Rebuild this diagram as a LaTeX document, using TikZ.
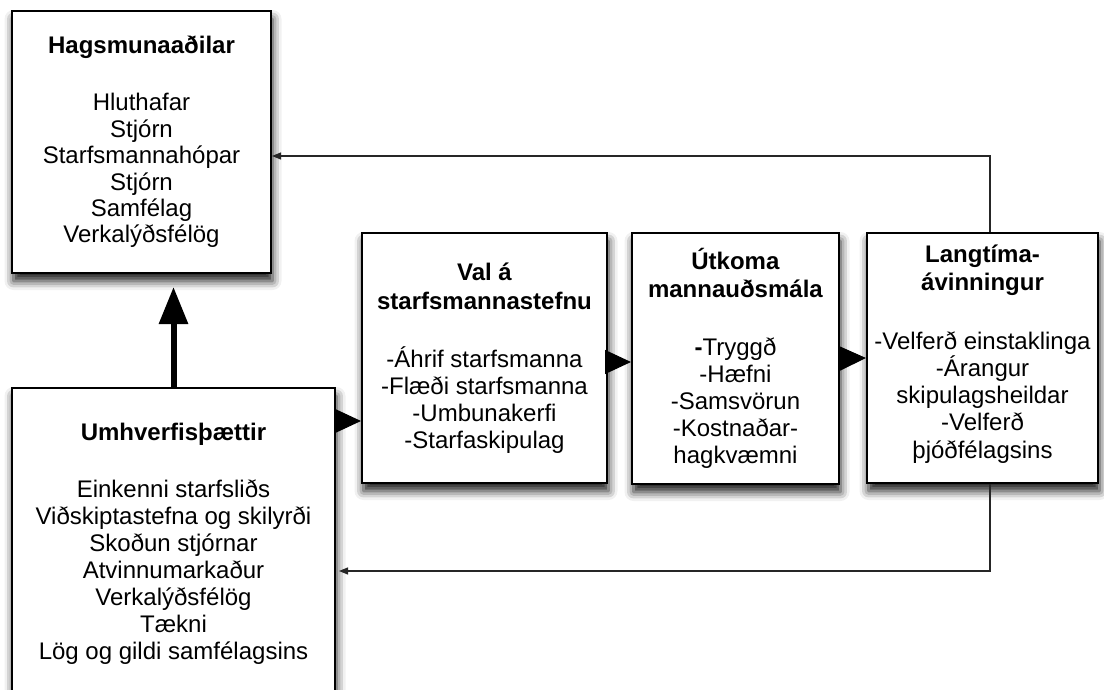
\documentclass[tikz,border=0pt]{standalone}
\usepackage{fontspec}
\setmainfont{Liberation Sans}
\usetikzlibrary{arrows.meta,shadows.blur,calc}

\begin{document}
\begin{tikzpicture}[x=1pt,y=-1pt,
  box/.style={draw=black, line width=2pt, fill=white, align=center, inner sep=2pt,
    font=\fontsize{24}{27}\selectfont,
    blur shadow={shadow xshift=1.5pt, shadow yshift=-8pt, shadow blur radius=9pt, shadow opacity=90}},
  boxtext/.style={align=center, inner sep=0pt, font=\fontsize{24}{27.25}\selectfont},
  flow/.style={line width=1pt, -{Triangle[length=26pt,width=24pt]}},
  feedback/.style={draw=black!85, line width=1.2pt, -{Triangle[length=9pt,width=7pt]}},
]
\useasboundingbox (0,0) rectangle (1104,690);
\clip (0,0) rectangle (1104,690);

% stakeholders
\node[box, minimum width=259pt, minimum height=262pt, font=\fontsize{24}{26.4}\selectfont] (hag) at (141.5,142)
  {\textbf{Hagsmunaaðilar}\\[30.6pt]
   Hluthafar\\Stjórn\\Starfsmannahópar\\Stjórn\\Samfélag\\Verkalýðsfélög};

% situational factors
\node[box, minimum width=323pt, minimum height=312pt] (umh) at (173.5,544)
  {\textbf{Umhverfisþættir}\\[30pt]
   Einkenni starfsliðs\\Viðskiptastefna og skilyrði\\Skoðun stjórnar\\
   Atvinnumarkaður\\Verkalýðsfélög\\Tækni\\Lög og gildi samfélagsins};

% policy choices
\node[box, minimum width=245pt, minimum height=250pt] (val) at (484.5,358)
  {\textbf{Val á}\\[2pt]\textbf{starfsmannastefnu}\\[31pt]
   -Áhrif starfsmanna\\-Flæði starfsmanna\\-Umbunakerfi\\-Starfaskipulag};

% HR outcomes
\node[box, minimum width=207pt, minimum height=251pt] (utk) at (735.5,358.5)
  {\textbf{Útkoma}\\[1pt]\textbf{mannauðsmála}\\[31pt]
   \textbf{-}Tryggð\\-Hæfni\\-Samsvörun\\-Kostnaðar-\\hagkvæmni};

% long-term consequences
\node[box, minimum width=231pt, minimum height=250pt] (lang) at (982.5,358) {};
\node[boxtext] (langtxt) at ($(lang.center)+(0,-4)$)
  {\textbf{Langtíma-}\\[1pt]\textbf{ávinningur}\\[31pt]
   -Velferð einstaklinga\\-Árangur\\skipulagsheildar\\-Velferð\\þjóðfélagsins};

% main flow
\draw[line width=6pt, -{Triangle[length=37pt,width=28pt]}]
  (umh.north) -- ($(hag.south -| umh.north)+(0,13)$);
\coordinate (ua) at ($(umh.north east)+(0,34)$);
\draw[flow] (ua) -- (ua -| val.west);
\draw[flow] ($(val.east)+(0,4)$) -- ($(utk.west)+(0,3.5)$);
\draw[flow] (utk.east) -- (lang.west);

% feedback loops
\draw[feedback] ([xshift=7.5pt]lang.north) |- ($(hag.east)+(0,14)$);
\draw[feedback] ([xshift=7.5pt]lang.south) |- ($(umh.east)+(3,27)$);
\end{tikzpicture}
\end{document}
